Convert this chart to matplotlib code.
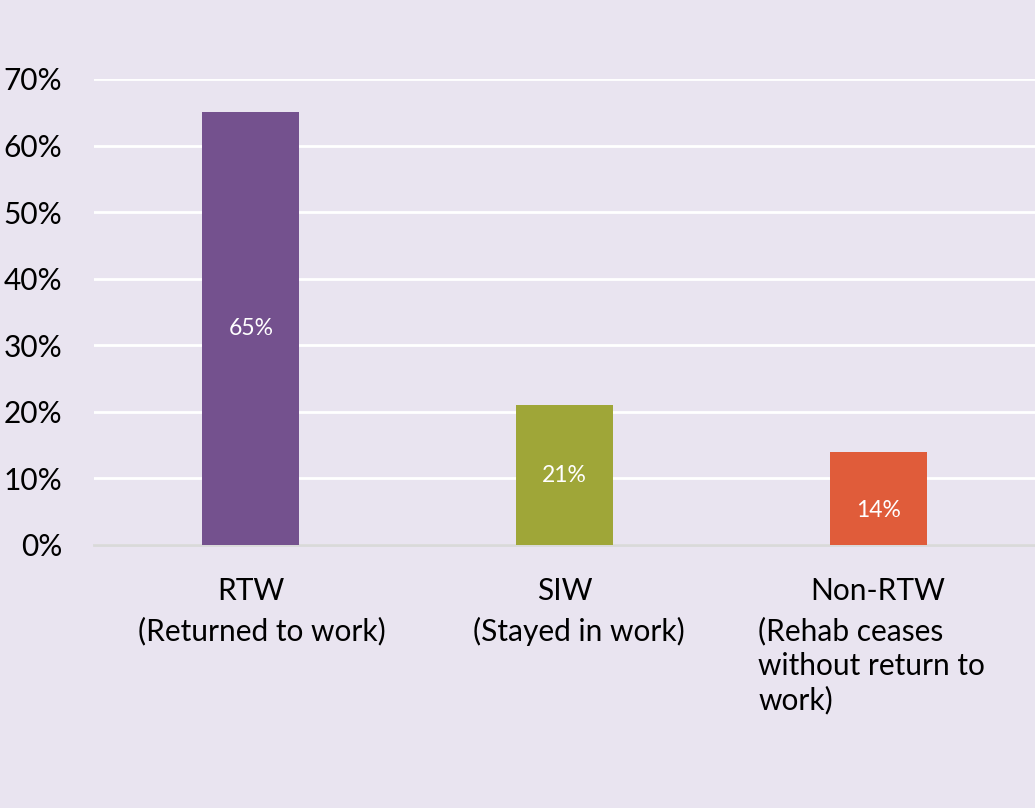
import numpy as np
import matplotlib.pyplot as plt
from matplotlib.ticker import PercentFormatter

categories = ["RTW", "SIW", "Non-RTW"]
descriptions = ["(Returned to work)", "(Stayed in work)", "(Rehab ceases\nwithout return to\nwork)"]
shares = [0.65, 0.21, 0.14]
bar_labels = ["65%", "21%", "14%"]
y_ticks = [0.0, 0.1, 0.2, 0.3, 0.4, 0.5, 0.6, 0.7]

bg = "#E9E4F0"
bar_colors = ["#74518E", "#9FA638", "#E05C3A"]
label_pos = [0.5, 0.5, 0.375]     # where the value sits inside each bar
desc_shift = [0.035, 0.045, -0.02]  # nudge the wrapped descriptions sideways

plt.rcParams["font.family"] = ["Lato", "DejaVu Sans"]

fig = plt.figure(figsize=(10.35, 8.08), dpi=100, facecolor=bg)
ax = fig.add_axes([94 / 1035, 263 / 808, 1 - 94 / 1035, 466 / 808], facecolor=bg)

x = np.arange(len(categories))
bars = ax.bar(x, shares, width=0.31, color=bar_colors, zorder=3)

for b, lab, p in zip(bars, bar_labels, label_pos):
    ax.text(b.get_x() + b.get_width() / 2, b.get_height() * p, lab,
            ha="center", va="center", color="white", fontsize=16.5, zorder=4)

ax.set_xlim(-0.5, 2.5)
ax.set_ylim(0, 0.7)
ax.set_yticks(y_ticks)
ax.yaxis.set_major_formatter(PercentFormatter(1.0, decimals=0))
ax.tick_params(axis="y", length=0, pad=23, labelsize=21.5)
ax.grid(axis="y", color="white", linewidth=2, zorder=0)
ax.set_xticks([])
for s in ["top", "right", "left"]:
    ax.spines[s].set_visible(False)
ax.spines["bottom"].set_color("#D9D9D9")
ax.spines["bottom"].set_linewidth(2)
ax.spines["bottom"].set_zorder(2)

# category names with their descriptions below
for xi, cat, desc, dx in zip(x, categories, descriptions, desc_shift):
    ax.text(xi, -0.048, cat, ha="center", va="top", fontsize=21.5)
    ax.text(xi + dx, -0.108, desc, ha="center", va="top", fontsize=21.5,
            multialignment="left", linespacing=1.26)

fig.savefig("out.png", dpi=100, facecolor=bg)
